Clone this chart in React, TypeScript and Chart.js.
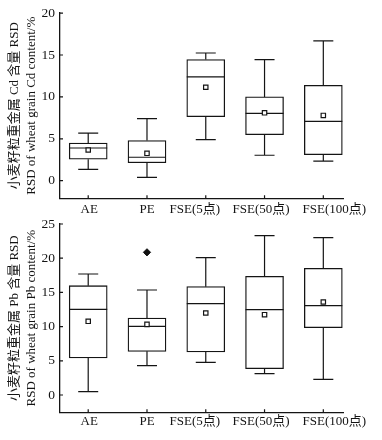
import React, { useEffect, useRef } from "react";
import { Chart, registerables } from "chart.js";

Chart.register(...registerables);

// ---- data ----
const categories = ["AE", "PE", "FSE(5点)", "FSE(50点)", "FSE(100点)"];
const positions = [1, 2, 3, 4, 5];

const cdMin = [1.36, 0.39, 4.9, 3.04, 2.34];
const cdQ1 = [2.57, 2.14, 7.64, 5.5, 3.11];
const cdMedian = [3.9, 2.8, 12.4, 8.03, 7.09];
const cdQ3 = [4.5, 4.8, 14.46, 10.0, 11.38];
const cdMax = [5.68, 7.4, 15.24, 14.46, 16.68];
const cdMean = [3.66, 3.27, 11.15, 8.1, 7.79];
const cdOutlierX: number[] = [];
const cdOutlierY: number[] = [];
const cdTicks = [0, 5, 10, 15, 20];

const pbMin = [0.49, 4.29, 4.78, 3.12, 2.29];
const pbQ1 = [5.41, 6.38, 6.29, 3.85, 9.84];
const pbMedian = [12.52, 10.04, 13.35, 12.48, 13.06];
const pbQ3 = [15.98, 11.26, 15.84, 17.35, 18.52];
const pbMax = [17.69, 15.35, 20.08, 23.29, 23.0];
const pbMean = [10.77, 10.33, 11.99, 11.74, 13.6];
const pbOutlierX = [2];
const pbOutlierY = [20.86];
const pbTicks = [0, 5, 10, 15, 20, 25];

const cdTitle = ["小麦籽粒重金属 Cd 含量 RSD", "RSD of wheat grain Cd content/%"];
const pbTitle = ["小麦籽粒重金属 Pb 含量 RSD", "RSD of wheat grain Pb content/%"];

// ---- styles ----
const FONT = "'Liberation Serif', 'Times New Roman', 'Noto Sans CJK SC', serif";
const INK = "#141414";
const X_LABEL_SHIFT = [1, 0, -11, -3.5, 11];

type Stats = {
  min: number[]; q1: number[]; median: number[]; q3: number[]; max: number[]; mean: number[];
  outX: number[]; outY: number[];
};

type Props = {
  stats: Stats;
  yMin: number;
  yMax: number;
  yTicks: number[];
  title: string[];
  top: number;
  height: number;
  areaTop: number;
  areaBottom: number;
  labelOffset: number;
};

function BoxChart(p: Props) {
  const ref = useRef<HTMLCanvasElement | null>(null);
  useEffect(() => {
    if (!ref.current) return;
    const s = p.stats;
    const plugin = {
      id: "boxWhiskers",
      afterDatasetDraw(chart: any, args: any) {
        if (args.index !== 0) return;
        const { ctx } = chart;
        const xs = chart.scales.x;
        const ys = chart.scales.y;
        ctx.save();
        ctx.strokeStyle = INK;
        ctx.lineWidth = 1.2;
        ctx.beginPath();
        positions.forEach((pos, i) => {
          const cx = xs.getPixelForValue(pos);
          const yMaxP = ys.getPixelForValue(s.max[i]);
          const yMinP = ys.getPixelForValue(s.min[i]);
          const yQ1 = ys.getPixelForValue(s.q1[i]);
          const yQ3 = ys.getPixelForValue(s.q3[i]);
          const yMed = ys.getPixelForValue(s.median[i]);
          ctx.moveTo(cx, yQ3);
          ctx.lineTo(cx, yMaxP);
          ctx.moveTo(cx, yQ1);
          ctx.lineTo(cx, yMinP);
          ctx.moveTo(cx - 10, yMaxP);
          ctx.lineTo(cx + 10, yMaxP);
          ctx.moveTo(cx - 10, yMinP);
          ctx.lineTo(cx + 10, yMinP);
          ctx.moveTo(cx - 19, yMed);
          ctx.lineTo(cx + 19, yMed);
        });
        ctx.stroke();
        ctx.restore();
      },
      afterDraw(chart: any) {
        const { ctx, chartArea: a } = chart;
        const xs = chart.scales.x;
        const ys = chart.scales.y;
        ctx.save();
        ctx.strokeStyle = INK;
        ctx.lineWidth = 1.2;
        ctx.beginPath();
        ys.ticks.forEach((t: any) => {
          const py = ys.getPixelForValue(t.value);
          ctx.moveTo(a.left, py);
          ctx.lineTo(a.left + 3, py);
        });
        xs.ticks.forEach((t: any) => {
          const px = xs.getPixelForValue(t.value);
          ctx.moveTo(px, a.bottom);
          ctx.lineTo(px, a.bottom - 3);
        });
        ctx.stroke();
        // category labels under the axis
        ctx.fillStyle = INK;
        ctx.font = `13px ${FONT}`;
        ctx.textAlign = "center";
        ctx.textBaseline = "middle";
        positions.forEach((pos, i) => {
          const px = xs.getPixelForValue(pos) + X_LABEL_SHIFT[i];
          ctx.fillText(categories[i], px, a.bottom + p.labelOffset);
        });
        ctx.restore();
      },
    };

    const chart = new Chart(ref.current, {
      type: "bar",
      data: {
        datasets: [
          {
            type: "bar",
            data: positions.map((x, i) => ({ x, y: [s.q1[i], s.q3[i]] })) as any,
            backgroundColor: "#ffffff",
            borderColor: INK,
            borderWidth: 1.3,
            borderSkipped: false,
            barThickness: 38,
            order: 2,
          } as any,
          {
            type: "scatter",
            data: positions.map((x, i) => ({ x, y: s.mean[i] })),
            pointStyle: "rect",
            pointRadius: 3.1,
            borderWidth: 1.2,
            borderColor: INK,
            backgroundColor: "#ffffff",
            showLine: false,
            order: 1,
          } as any,
          {
            type: "scatter",
            data: s.outX.map((x, i) => ({ x, y: s.outY[i] })),
            pointStyle: "rectRot",
            pointRadius: 3.6,
            borderWidth: 1,
            borderColor: "#111",
            backgroundColor: "#111",
            showLine: false,
            order: 0,
          } as any,
        ],
      },
      options: {
        responsive: false,
        animation: false,
        layout: { padding: { top: p.areaTop, right: 38.7, left: 0, bottom: 0 } },
        plugins: { legend: { display: false }, tooltip: { enabled: false } },
        scales: {
          x: {
            type: "linear",
            min: 0.52,
            max: 5.34,
            offset: false,
            afterBuildTicks: (sc: any) => {
              sc.ticks = positions.map((v) => ({ value: v }));
            },
            afterFit: (sc: any) => {
              sc.height = p.height - p.areaBottom;
            },
            ticks: {
              display: false,
              autoSkip: false,
              maxRotation: 0,
              callback: (v: any) => categories[positions.indexOf(Number(v))],
            },
            grid: { display: false, drawTicks: false },
            border: { display: true, color: INK, width: 1.3 },
          },
          y: {
            type: "linear",
            min: p.yMin,
            max: p.yMax,
            afterBuildTicks: (sc: any) => {
              sc.ticks = p.yTicks.map((v) => ({ value: v }));
            },
            afterFit: (sc: any) => {
              sc.width = 60;
            },
            ticks: {
              padding: 5,
              color: INK,
              font: { family: FONT, size: 13.5 },
            },
            grid: { display: false, drawTicks: false },
            border: { display: true, color: INK, width: 1.3 },
            title: {
              display: true,
              text: p.title,
              color: INK,
              font: { family: FONT, size: 13, lineHeight: 1.28 },
              padding: { top: 6.7, bottom: 0 },
            },
          },
        },
      } as any,
      plugins: [plugin as any],
    });
    return () => chart.destroy();
  }, []);

  return (
    <canvas
      ref={ref}
      width={382}
      height={p.height}
      style={{ position: "absolute", left: 0, top: p.top, width: 382, height: p.height, display: "block" }}
    />
  );
}

const cdStats: Stats = {
  min: cdMin, q1: cdQ1, median: cdMedian, q3: cdQ3, max: cdMax, mean: cdMean,
  outX: cdOutlierX, outY: cdOutlierY,
};
const pbStats: Stats = {
  min: pbMin, q1: pbQ1, median: pbMedian, q3: pbQ3, max: pbMax, mean: pbMean,
  outX: pbOutlierX, outY: pbOutlierY,
};

export default function App() {
  return (
    <div style={{ position: "absolute", left: 0, top: 0, width: 382, height: 440, background: "#fff" }}>
      <BoxChart
        stats={cdStats}
        yMin={-2.1}
        yMax={20}
        yTicks={cdTicks}
        title={cdTitle}
        top={0}
        height={220}
        areaTop={9.3}
        areaBottom={198.3}
        labelOffset={11}
      />
      <BoxChart
        stats={pbStats}
        yMin={-2.53}
        yMax={25}
        yTicks={pbTicks}
        title={pbTitle}
        top={205}
        height={235}
        areaTop={19}
        areaBottom={207.3}
        labelOffset={9.5}
      />
    </div>
  );
}
